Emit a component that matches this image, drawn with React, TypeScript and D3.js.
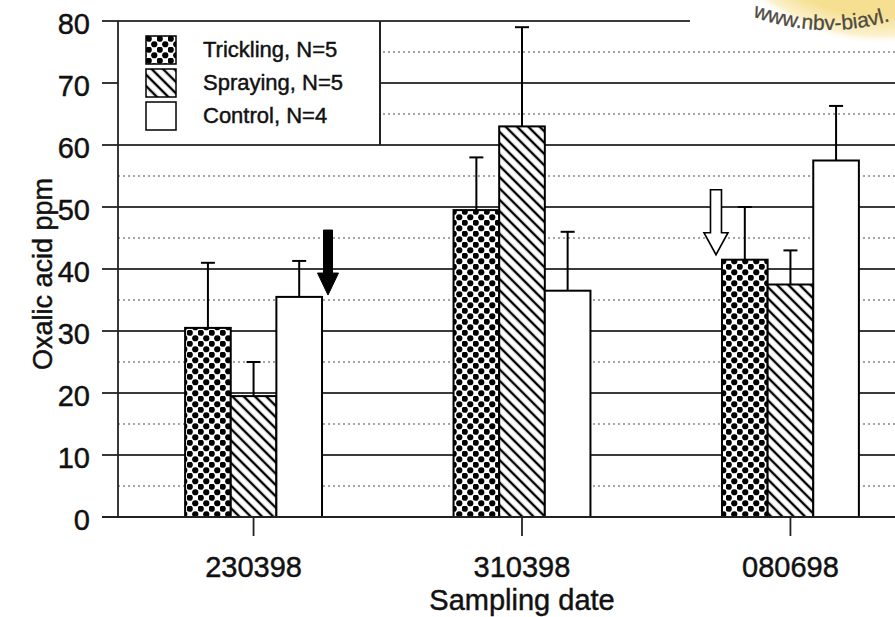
import React from 'react';
import * as d3 from 'd3';

const dates = ['230398', '310398', '080698'];
const seriesNames = ['Trickling, N=5', 'Spraying, N=5', 'Control, N=4'];
const trickling = [30.5, 49.5, 41.5];
const spraying = [19.5, 63, 37.5];
const control = [35.5, 36.5, 57.5];
const tricklingErr = [10.5, 8.5, 8.5];
const sprayingErr = [5.5, 16, 5.5];
const controlErr = [5.8, 9.5, 8.8];
const yTicks = [0, 10, 20, 30, 40, 50, 60, 70, 80];
const minorTicks = [5, 15, 25, 35, 45, 55, 65, 75];
const arrows = [
  { date: '230398', value: 35.8, side: 'right', filled: true },
  { date: '080698', value: 42.3, side: 'left', filled: false },
];

const W = 895;
const H = 617;
const FONT = '"Liberation Sans", Arial, Helvetica, sans-serif';
const INK = '#111';

export default function App() {
  const y = d3.scaleLinear().domain([0, 80]).range([517, 21]);
  const x0 = d3.scaleBand<string>().domain(dates).range([118, 926]).paddingInner(0.49).paddingOuter(0.25);
  const x1 = d3.scaleBand<string>().domain(seriesNames).range([0, x0.bandwidth()]).padding(0);
  const values = [trickling, spraying, control];
  const errs = [tricklingErr, sprayingErr, controlErr];
  const fills = ['url(#dots)', 'url(#hatch)', '#fff'];

  const bars: any[] = [];
  dates.forEach((d, i) => {
    seriesNames.forEach((s, j) => {
      bars.push({ d, s, v: values[j][i], e: errs[j][i], fill: fills[j] });
    });
  });

  const wm = { cx: 828, cy: -186, r: 216 };
  const wmPath = `M ${wm.cx - wm.r} ${wm.cy} A ${wm.r} ${wm.r} 0 0 0 ${wm.cx + wm.r} ${wm.cy}`;
  const textStyle = { stroke: INK, strokeWidth: 0.45 } as any;

  return (
    <svg width={W} height={H} style={{ position: 'absolute', left: 0, top: 0, background: '#fff' }} fontFamily={FONT}>
      <defs>
        <pattern id="dots" patternUnits="userSpaceOnUse" width="11" height="11">
          <rect width="11" height="11" fill="#fff" />
          <circle cx="2.75" cy="2.75" r="3.1" fill="#000" />
          <circle cx="8.25" cy="8.25" r="3.1" fill="#000" />
          <circle cx="-2.75" cy="8.25" r="3.1" fill="#000" />
          <circle cx="13.75" cy="8.25" r="3.1" fill="#000" />
          <circle cx="8.25" cy="-2.75" r="3.1" fill="#000" />
          <circle cx="8.25" cy="13.75" r="3.1" fill="#000" />
          <circle cx="-2.75" cy="-2.75" r="3.1" fill="#000" />
          <circle cx="13.75" cy="13.75" r="3.1" fill="#000" />
        </pattern>
        <pattern id="hatch" patternUnits="userSpaceOnUse" width="8" height="8" patternTransform="rotate(-45)">
          <rect width="8" height="8" fill="#fff" />
          <line x1="4" y1="0" x2="4" y2="8" stroke="#000" strokeWidth="2.4" />
        </pattern>
        <radialGradient id="wmGrad" cx="0.5" cy="0.5" r="0.5">
          <stop offset="0.85" stopColor="#f6df90" stopOpacity="1" />
          <stop offset="0.95" stopColor="#faedbe" stopOpacity="0.8" />
          <stop offset="1" stopColor="#ffffff" stopOpacity="0" />
        </radialGradient>
        <path id="wmArc" d={wmPath} />
      </defs>

      {/* watermark */}
      <circle cx={880} cy={-150} r={195} fill="url(#wmGrad)" />
      <text fontSize={21} fill="#4e4a40" fontFamily={FONT} style={{ stroke: '#4e4a40', strokeWidth: 0.3 } as any}>
        <textPath href="#wmArc" startOffset={262}>www.nbv-biavl.</textPath>
      </text>

      {/* minor dotted gridlines */}
      {minorTicks.map((t) => (
        <line key={'m' + t} x1={118} x2={W} y1={y(t)} y2={y(t)} stroke="#888" strokeWidth={1.4} strokeDasharray="2 3" />
      ))}
      {/* major gridlines */}
      {yTicks.filter((t) => t > 0).map((t) => (
        <line key={'g' + t} x1={118} x2={t === 80 ? 690 : W} y1={y(t)} y2={y(t)} stroke="#3a3a3a" strokeWidth={1.8} />
      ))}

      {/* legend box */}
      <rect x={118} y={y(80)} width={262} height={y(60) - y(80)} fill="#fff" />
      <line x1={118} x2={380} y1={y(80)} y2={y(80)} stroke="#3a3a3a" strokeWidth={1.8} />
      <line x1={118} x2={380} y1={y(60)} y2={y(60)} stroke="#3a3a3a" strokeWidth={1.8} />
      <line x1={380} x2={380} y1={y(80)} y2={y(60)} stroke="#222" strokeWidth={2} />
      {seriesNames.map((s, j) => (
        <g key={s} transform={`translate(146, ${36 + j * 33})`}>
          <rect width={30} height={28} fill={fills[j]} stroke="#000" strokeWidth={1.5} />
          <text x={57} y={21} fontSize={22} fill={INK} style={textStyle}>{s}</text>
        </g>
      ))}

      {/* bars */}
      {bars.map((b, k) => {
        const bx = (x0(b.d) as number) + (x1(b.s) as number);
        const bw = x1.bandwidth();
        const cx = bx + bw / 2;
        return (
          <g key={k}>
            <line x1={cx} x2={cx} y1={y(b.v)} y2={y(b.v + b.e)} stroke="#000" strokeWidth={2} />
            <line x1={cx - 7} x2={cx + 7} y1={y(b.v + b.e)} y2={y(b.v + b.e)} stroke="#000" strokeWidth={2} />
            <rect x={bx} y={y(b.v)} width={bw} height={y(0) - y(b.v)} fill={b.fill} stroke="#000" strokeWidth={2} />
          </g>
        );
      })}

      {/* arrows */}
      {arrows.map((a, k) => {
        const gx = x0(a.date) as number;
        const ax = a.side === 'right' ? gx + x0.bandwidth() + 6 : gx - 6;
        const tip = y(a.value);
        const len = 65;
        const sw = a.filled ? 4.5 : 5.5;
        const hw = a.filled ? 10.5 : 12;
        const hl = 22;
        const d = `M ${ax - sw} ${tip - len} L ${ax + sw} ${tip - len} L ${ax + sw} ${tip - hl} L ${ax + hw} ${tip - hl} L ${ax} ${tip} L ${ax - hw} ${tip - hl} L ${ax - sw} ${tip - hl} Z`;
        return <path key={k} d={d} fill={a.filled ? '#000' : '#fff'} stroke="#000" strokeWidth={a.filled ? 1 : 1.6} />;
      })}

      {/* axes */}
      <line x1={118} x2={118} y1={y(80)} y2={y(0)} stroke="#222" strokeWidth={1.8} />
      <line x1={102} x2={W} y1={y(0)} y2={y(0)} stroke="#222" strokeWidth={1.8} />
      {yTicks.map((t) => (
        <g key={'yt' + t}>
          <line x1={102} x2={118} y1={y(t)} y2={y(t)} stroke="#222" strokeWidth={1.8} />
          <text x={90} y={y(t) + 13} fontSize={29} textAnchor="end" fill={INK} style={textStyle}>{t}</text>
        </g>
      ))}
      {dates.map((d) => {
        const cx = (x0(d) as number) + x0.bandwidth() / 2;
        return (
          <g key={'xt' + d}>
            <line x1={cx} x2={cx} y1={y(0)} y2={y(0) + 19} stroke="#222" strokeWidth={1.8} />
            <text x={cx} y={577} fontSize={29} textAnchor="middle" fill={INK} style={textStyle}>{d}</text>
          </g>
        );
      })}
      <text x={(x0(dates[1]) as number) + x0.bandwidth() / 2} y={610} fontSize={29} textAnchor="middle" fill={INK} style={textStyle}>Sampling date</text>
      <text transform={`translate(52, 274) rotate(-90)`} fontSize={27} textAnchor="middle" fill={INK} style={textStyle}>Oxalic acid ppm</text>
    </svg>
  );
}
